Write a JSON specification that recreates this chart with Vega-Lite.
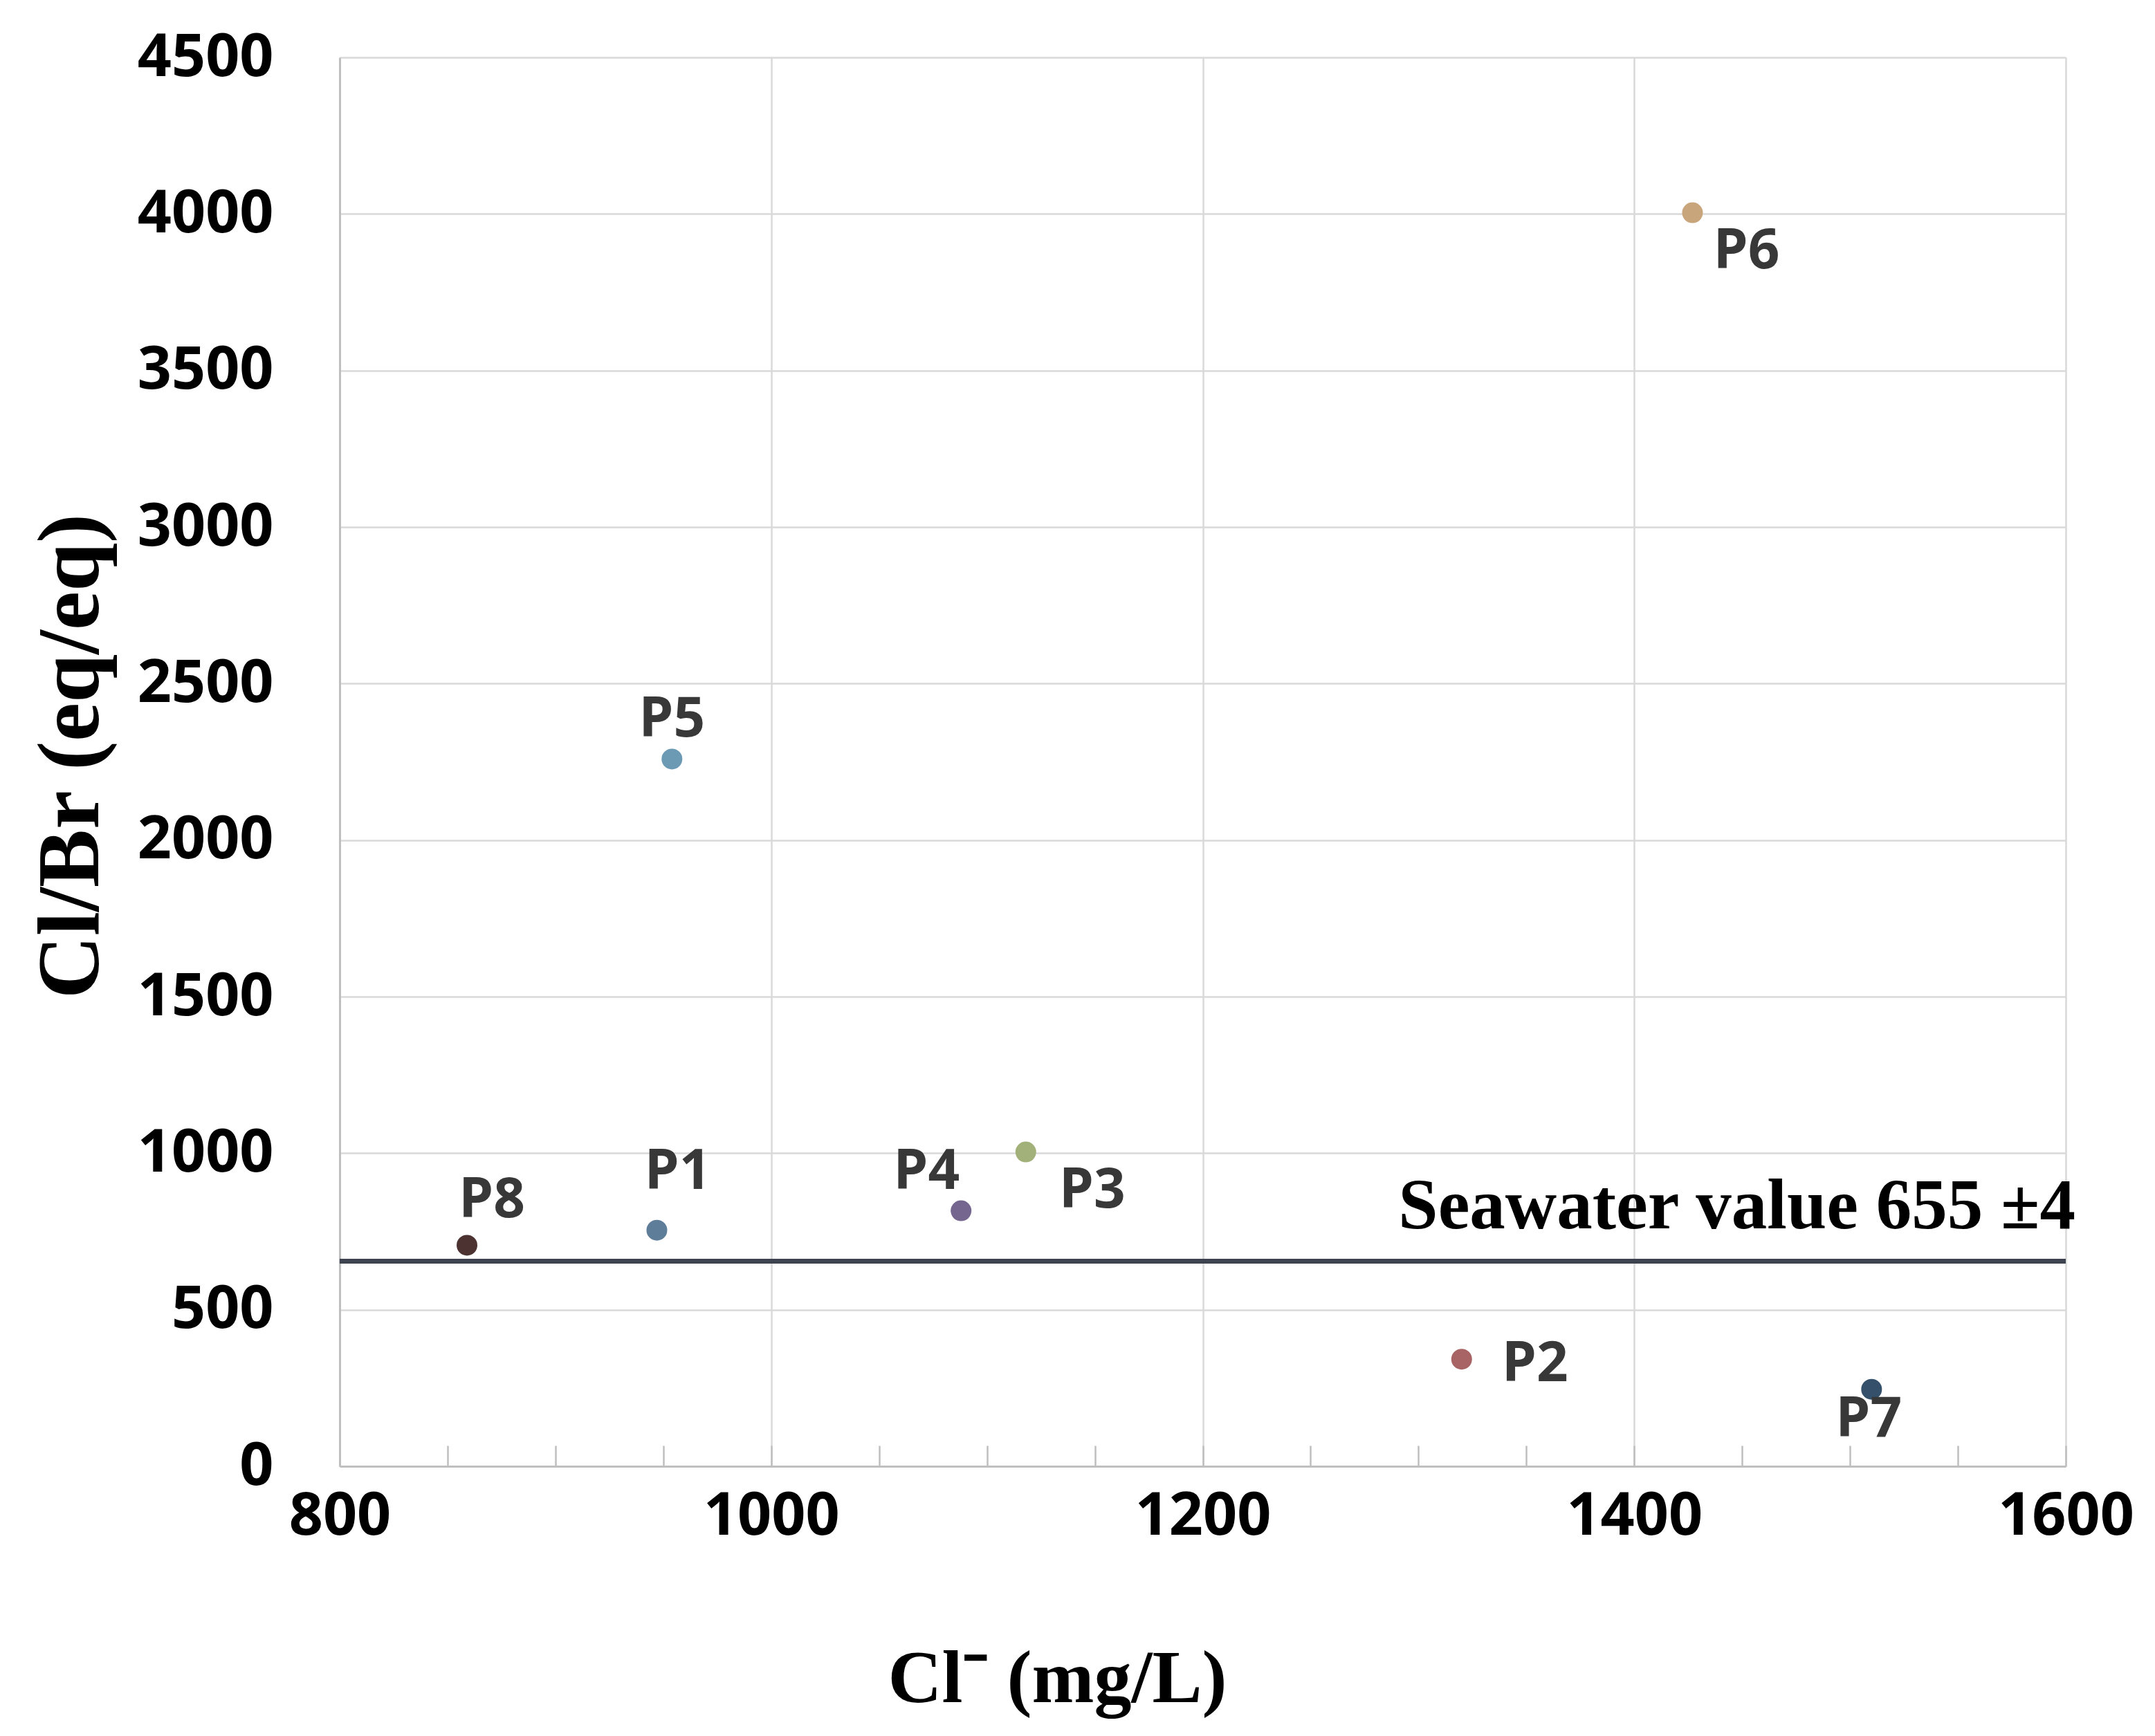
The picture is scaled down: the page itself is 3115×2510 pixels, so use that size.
{
  "$schema": "https://vega.github.io/schema/vega-lite/v6.json",
  "autosize": {"type": "none"},
  "width": 2495,
  "height": 2037,
  "padding": {"left": 491, "top": 83, "right": 134, "bottom": 390},
  "background": "white",
  "config": {
    "view": {"stroke": null},
    "axis": {
      "labelFont": "Open Sans",
      "labelFontWeight": "bold",
      "labelFontSize": 86,
      "labelColor": "#000000",
      "labelLimit": 0,
      "format": "d",
      "titleFont": "Liberation Serif",
      "titleFontWeight": "bold",
      "titleFontSize": 108,
      "titleColor": "#000000",
      "gridColor": "#d9d9d9",
      "gridWidth": 2.5,
      "domainColor": "#bfbfbf",
      "domainWidth": 3
    }
  },
  "datasets": {
    "points": [
      {"id": "P1", "cl": 947, "ratio": 754},
      {"id": "P2", "cl": 1320, "ratio": 342},
      {"id": "P3", "cl": 1118, "ratio": 1004},
      {"id": "P4", "cl": 1088, "ratio": 816},
      {"id": "P5", "cl": 954, "ratio": 2259},
      {"id": "P6", "cl": 1427, "ratio": 4004},
      {"id": "P7", "cl": 1510, "ratio": 246},
      {"id": "P8", "cl": 859, "ratio": 706}
    ],
    "seawater": [
      {"ratio": 655, "label": "Seawater value 655 ±4"}
    ]
  },
  "layer": [
    {
      "data": {"name": "points"},
      "mark": {"type": "point", "filled": true, "opacity": 1, "size": 900},
      "encoding": {
        "x": {
          "field": "cl", "type": "quantitative",
          "scale": {"domain": [800, 1600], "nice": false, "zero": false},
          "axis": {
            "title": "Cl⁻ (mg/L)",
            "format": "d",
            "values": [800, 850, 900, 950, 1000, 1050, 1100, 1150, 1200, 1250, 1300, 1350, 1400, 1450, 1500, 1550, 1600],
            "labelExpr": "datum.value % 200 === 0 ? datum.label : ''",
            "labelPadding": 60,
            "ticks": true,
            "tickSize": -30,
            "tickColor": "#bfbfbf",
            "tickWidth": 2.5,
            "gridColor": {"condition": {"test": "datum.value % 200 !== 0", "value": "transparent"}, "value": "#d9d9d9"},
            "labelFlush": false,
            "titleX": 1037,
            "titleY": 308,
            "titleBaseline": "middle",
            "titleAlign": "center"
          }
        },
        "y": {
          "field": "ratio", "type": "quantitative",
          "scale": {"domain": [0, 4500], "nice": false},
          "axis": {
            "title": "Cl/Br (eq/eq)",
            "format": "d",
            "values": [0, 500, 1000, 1500, 2000, 2500, 3000, 3500, 4000, 4500],
            "ticks": false,
            "labelPadding": 96,
            "labelFlush": false,
            "titleFontSize": 126,
            "titleX": -388,
            "titleY": 1010,
            "titleAngle": -90,
            "titleBaseline": "middle",
            "titleAlign": "center"
          }
        },
        "color": {
          "field": "id", "type": "nominal",
          "scale": {
            "domain": ["P1", "P2", "P3", "P4", "P5", "P6", "P7", "P8"],
            "range": ["#5d7d99", "#a86464", "#a2b07a", "#75668f", "#6c9ab5", "#c9a57c", "#35506a", "#4d3232"]
          },
          "legend": null
        }
      }
    },
    {
      "data": {"name": "seawater"},
      "mark": {"type": "rule", "color": "#3d4450", "strokeWidth": 7},
      "encoding": {
        "y": {"field": "ratio", "type": "quantitative"}
      }
    },
    {
      "data": {"name": "seawater"},
      "mark": {"type": "text", "font": "Liberation Serif", "fontWeight": "bold", "fontSize": 103, "color": "#000000", "align": "right", "baseline": "alphabetic", "dx": 14, "dy": -48},
      "encoding": {
        "x": {"datum": 1600, "type": "quantitative"},
        "y": {"field": "ratio", "type": "quantitative"},
        "text": {"field": "label"}
      }
    },
    {
      "data": {"name": "points"},
      "transform": [{"filter": "datum.id === 'P8'"}],
      "mark": {"type": "text", "font": "Open Sans", "fontWeight": "bold", "fontSize": 80, "color": "#383838", "align": "center", "baseline": "middle", "dx": 36, "dy": -64},
      "encoding": {"x": {"field": "cl", "type": "quantitative"}, "y": {"field": "ratio", "type": "quantitative"}, "text": {"field": "id"}}
    },
    {
      "data": {"name": "points"},
      "transform": [{"filter": "datum.id === 'P1'"}],
      "mark": {"type": "text", "font": "Open Sans", "fontWeight": "bold", "fontSize": 80, "color": "#383838", "align": "center", "baseline": "middle", "dx": 30, "dy": -84},
      "encoding": {"x": {"field": "cl", "type": "quantitative"}, "y": {"field": "ratio", "type": "quantitative"}, "text": {"field": "id"}}
    },
    {
      "data": {"name": "points"},
      "transform": [{"filter": "datum.id === 'P5'"}],
      "mark": {"type": "text", "font": "Open Sans", "fontWeight": "bold", "fontSize": 80, "color": "#383838", "align": "center", "baseline": "middle", "dx": 0, "dy": -56},
      "encoding": {"x": {"field": "cl", "type": "quantitative"}, "y": {"field": "ratio", "type": "quantitative"}, "text": {"field": "id"}}
    },
    {
      "data": {"name": "points"},
      "transform": [{"filter": "datum.id === 'P4'"}],
      "mark": {"type": "text", "font": "Open Sans", "fontWeight": "bold", "fontSize": 80, "color": "#383838", "align": "center", "baseline": "middle", "dx": -50, "dy": -56},
      "encoding": {"x": {"field": "cl", "type": "quantitative"}, "y": {"field": "ratio", "type": "quantitative"}, "text": {"field": "id"}}
    },
    {
      "data": {"name": "points"},
      "transform": [{"filter": "datum.id === 'P3'"}],
      "mark": {"type": "text", "font": "Open Sans", "fontWeight": "bold", "fontSize": 80, "color": "#383838", "align": "center", "baseline": "middle", "dx": 96, "dy": 56},
      "encoding": {"x": {"field": "cl", "type": "quantitative"}, "y": {"field": "ratio", "type": "quantitative"}, "text": {"field": "id"}}
    },
    {
      "data": {"name": "points"},
      "transform": [{"filter": "datum.id === 'P2'"}],
      "mark": {"type": "text", "font": "Open Sans", "fontWeight": "bold", "fontSize": 80, "color": "#383838", "align": "center", "baseline": "middle", "dx": 106, "dy": 8},
      "encoding": {"x": {"field": "cl", "type": "quantitative"}, "y": {"field": "ratio", "type": "quantitative"}, "text": {"field": "id"}}
    },
    {
      "data": {"name": "points"},
      "transform": [{"filter": "datum.id === 'P7'"}],
      "mark": {"type": "text", "font": "Open Sans", "fontWeight": "bold", "fontSize": 80, "color": "#383838", "align": "center", "baseline": "middle", "dx": -4, "dy": 44},
      "encoding": {"x": {"field": "cl", "type": "quantitative"}, "y": {"field": "ratio", "type": "quantitative"}, "text": {"field": "id"}}
    },
    {
      "data": {"name": "points"},
      "transform": [{"filter": "datum.id === 'P6'"}],
      "mark": {"type": "text", "font": "Open Sans", "fontWeight": "bold", "fontSize": 80, "color": "#383838", "align": "center", "baseline": "middle", "dx": 78, "dy": 56},
      "encoding": {"x": {"field": "cl", "type": "quantitative"}, "y": {"field": "ratio", "type": "quantitative"}, "text": {"field": "id"}}
    }
  ]
}
